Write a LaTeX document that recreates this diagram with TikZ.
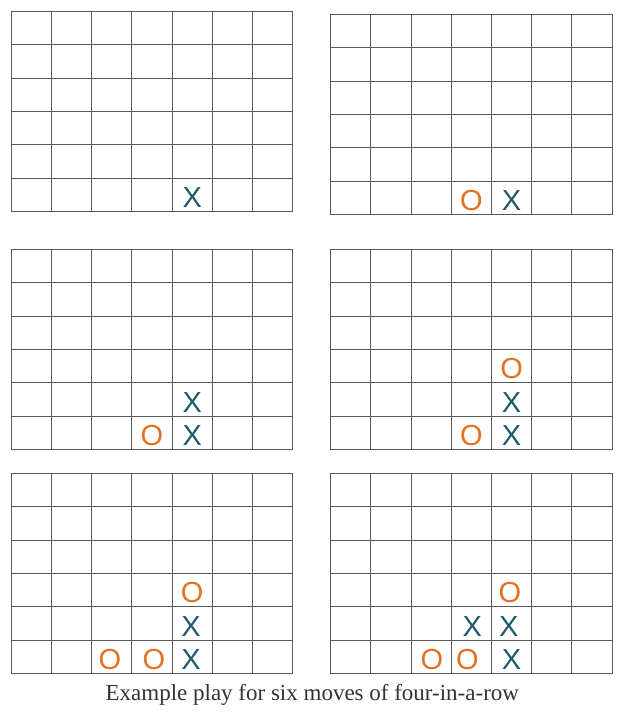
\documentclass[tikz,border=0pt]{standalone}
\usepackage{fontspec}
\setmainfont{Liberation Serif}
\newfontfamily\piecefont{Liberation Sans}
\usetikzlibrary{positioning}
\definecolor{bdLine}{HTML}{585858}
\definecolor{bdTeal}{HTML}{1F5A6B}
\definecolor{bdOrange}{HTML}{E07325}
\definecolor{bdText}{HTML}{333333}
\tikzset{
  board/.style 2 args={shift={(#1,#2)}, x=40.2pt, y=-33.4pt},
  gridline/.style={line width=0.9pt, draw=bdLine},
  xpiece/.style={font=\piecefont\fontsize{29}{29}\selectfont, text=bdTeal,
                 inner sep=0pt, yshift=-2.5pt},
  opiece/.style={font=\piecefont\fontsize{29}{29}\selectfont, text=bdOrange,
                 inner sep=0pt, yshift=-2.5pt},
  caption/.style={font=\fontsize{23}{27}\selectfont, text=bdText, anchor=base},
}
\newcommand{\boardlines}{%
  \foreach \c in {0,...,7} \draw[gridline] (\c,0) -- (\c,6);
  \foreach \r in {0,...,6} \draw[gridline] (0,\r) -- (7,\r);}

\begin{document}
\begin{tikzpicture}[x=1pt, y=-1pt]
  \useasboundingbox (0,0) rectangle (626,718);
  % move 1
  \begin{scope}[board={11.3}{11.3}]
    \boardlines
    \node[xpiece] (a1) at (4.5,5.5) {X};
  \end{scope}
  % move 2
  \begin{scope}[board={330.7}{14.3}]
    \boardlines
    \node[opiece] (b1) at (3.5,5.5) {O};
    \node[xpiece] (b2) at (4.5,5.5) {X};
  \end{scope}
  % move 3
  \begin{scope}[board={11.3}{249.3}]
    \boardlines
    \node[opiece] (c1) at (3.5,5.5) {O};
    \node[xpiece] (c2) at (4.5,5.5) {X};
    \node[xpiece] (c3) at (4.5,4.5) {X};
  \end{scope}
  % move 4
  \begin{scope}[board={330.7}{249.3}]
    \boardlines
    \node[opiece] (d1) at (3.5,5.5) {O};
    \node[xpiece] (d2) at (4.5,5.5) {X};
    \node[xpiece] (d3) at (4.5,4.5) {X};
    \node[opiece] (d4) at (4.5,3.5) {O};
  \end{scope}
  % move 5
  \begin{scope}[board={11.3}{473.3}]
    \boardlines
    \node[opiece] (e1) at (2.45,5.5) {O};
    \node[opiece] (e2) at (3.55,5.5) {O};
    \node[xpiece] (e3) at (4.47,5.5) {X};
    \node[xpiece] (e4) at (4.47,4.5) {X};
    \node[opiece] (e5) at (4.5,3.5) {O};
  \end{scope}
  % move 6
  \begin{scope}[board={330.7}{473.3}]
    \boardlines
    \node[opiece] (f1) at (2.52,5.5) {O};
    \node[opiece] (f2) at (3.4,5.5) {O};
    \node[xpiece] (f3) at (4.5,5.5) {X};
    \node[xpiece] (f4) at (3.52,4.5) {X};
    \node[xpiece] (f5) at (4.43,4.5) {X};
    \node[opiece] (f6) at (4.46,3.5) {O};
  \end{scope}
  \node[caption] (cap) at (312.3,700) {Example play for six moves of four-in-a-row};
\end{tikzpicture}
\end{document}
